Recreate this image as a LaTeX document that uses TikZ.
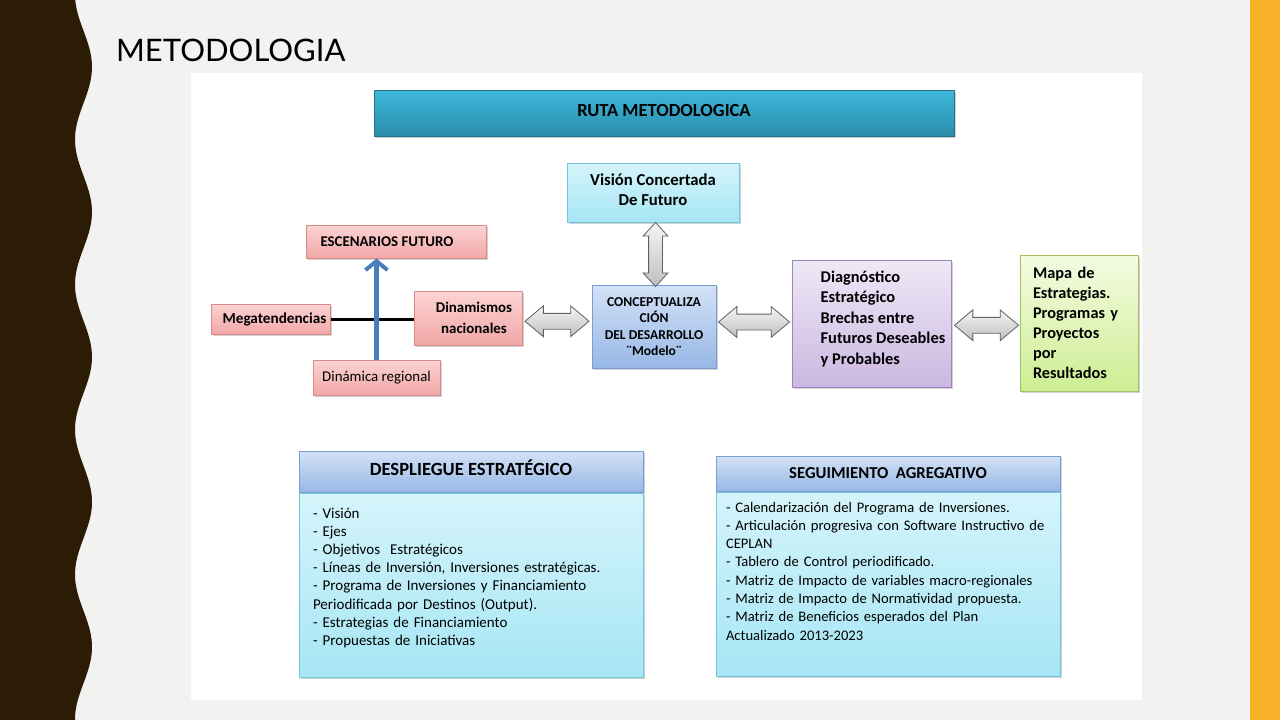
\documentclass[tikz,border=0pt]{standalone}
\usepackage{fontspec}
\setmainfont{Carlito}
\newfontfamily\titlefont{Lato}
\usetikzlibrary{shapes.arrows,shadows,arrows.meta,calc}

\definecolor{slidebg}{HTML}{F2F2F1}
\definecolor{bandbrown}{HTML}{2C1C06}
\definecolor{bandorange}{HTML}{F6B128}
\definecolor{rosetop}{HTML}{FBD3D3}
\definecolor{rosebot}{HTML}{F2A7A7}
\definecolor{roseline}{HTML}{D98A89}
\definecolor{cyantop}{HTML}{D5F4FB}
\definecolor{cyanbot}{HTML}{A6E6F5}
\definecolor{cyanline}{HTML}{74C6DA}
\definecolor{bluetop}{HTML}{D3E1F6}
\definecolor{bluebot}{HTML}{97B8E6}
\definecolor{blueline}{HTML}{7A9ED2}
\definecolor{liltop}{HTML}{EEE8F6}
\definecolor{lilbot}{HTML}{CBB8E0}
\definecolor{lilline}{HTML}{9C84C2}
\definecolor{greentop}{HTML}{F4FBE2}
\definecolor{greenbot}{HTML}{CDEE93}
\definecolor{greenline}{HTML}{A2C062}
\definecolor{tealtop}{HTML}{3DB8DB}
\definecolor{tealbot}{HTML}{2B8DAA}
\definecolor{arrowblue}{HTML}{4A7EBB}

\tikzset{
  box/.style={draw, line width=1pt, inner sep=2pt, align=center,
    drop shadow={shadow xshift=1.5pt, shadow yshift=-2pt, opacity=0.35}},
  rosebox/.style={box, draw=roseline, top color=rosetop, bottom color=rosebot},
  cyanbox/.style={box, draw=cyanline, top color=cyantop, bottom color=cyanbot},
  bluebox/.style={box, draw=blueline, top color=bluetop, bottom color=bluebot},
  dblarrow/.style={double arrow, draw=gray!75!black, line width=0.8pt,
    top color=gray!8, bottom color=gray!50, inner xsep=0pt, inner ysep=7.5pt,
    double arrow tip angle=80, double arrow head extend=7.5pt}
}

\begin{document}
\begin{tikzpicture}[x=1pt,y=-1pt]
\useasboundingbox (0,0) rectangle (1280,720);

% slide background and side bands
\fill[slidebg] (0,0) rectangle (1280,720);
\fill[bandorange] (1250,0) rectangle (1280,720);
\fill[bandbrown] (0,-10) -- plot[domain=-10:730, samples=120, smooth]
  ({83.5+8.5*cos(2.4828*(\x-67))}, \x) -- (0,730) -- cycle;

\node[anchor=base west, inner sep=0pt, font=\titlefont\fontsize{31}{34}\selectfont] (titulo) at (116,61) {METODOLOGIA};

% white panel
\fill[white] (191,73) rectangle (1142,700);

% top row
\node[box, draw=tealbot!80!black, top color=tealtop, bottom color=tealbot, minimum width=580, minimum height=46,
  text depth=6pt, font=\bfseries\fontsize{18.5}{20}\selectfont] (ruta) at (664,113) {RUTA METODOLOGICA};
\node[cyanbox, minimum width=172, minimum height=59, text depth=5pt, font=\bfseries\fontsize{16.7}{20}\selectfont] (vision) at (653,192.5) {Visión Concertada\\De Futuro};

\node[rosebox, minimum width=180, minimum height=33, font=\bfseries\fontsize{14.9}{16}\selectfont] (escen) at (396,241.5) {ESCENARIOS FUTURO\hspace{18pt}};
\node[rosebox, minimum width=119, minimum height=30, font=\bfseries\fontsize{15.2}{16}\selectfont] (mega) at (270.5,319) {\hspace{8pt}Megatendencias};
\node[rosebox, minimum width=108, minimum height=54, font=\bfseries\fontsize{14.9}{21}\selectfont] (dina) at (468,318) {\hspace{12pt}Dinamismos\\\hspace{12pt}nacionales};
\node[rosebox, minimum width=127, minimum height=35, font=\fontsize{14.9}{16}\selectfont] (dinreg) at (376.5,377.5) {Dinámica regional};

\node[bluebox, minimum width=124, minimum height=83, font=\bfseries\fontsize{13.6}{16.6}\selectfont] (conc) at (654,326.5) {CONCEPTUALIZA\\CIÓN\\DEL DESARROLLO\\¨Modelo¨};
\node[box, draw=lilline, top color=liltop, bottom color=lilbot, minimum width=159, minimum height=127,
  align=left, text depth=12pt, font=\bfseries\fontsize{16.4}{20.5}\selectfont] (diag) at (871.5,323.5)
  {\hspace{23pt}Diagnóstico\\\hspace{23pt}Estratégico\\\hspace{23pt}Brechas entre\\\hspace{23pt}Futuros Deseables\\\hspace{23pt}y Probables};
\node[box, draw=greenline, top color=greentop, bottom color=greenbot, minimum width=118, minimum height=136,
  align=left, text width=92, font=\bfseries\fontsize{16.3}{20}\selectfont] (mapa) at (1079,323)
  {Mapa de\\Estrategias.\\Programas y\\Proyectos\\por\\Resultados};

% links
\draw[line width=3pt] (mega.east) -- (mega.east -| dina.west);
\draw[arrowblue, line width=4.5pt, -{Straight Barb[length=9pt,width=22pt,line width=4pt]}] (dinreg.north) -- (dinreg.north |- escen.south);

\node[dblarrow, minimum height=64] (a1) at ($(dina.east)!0.5!(conc.west)+(0,-1)$) {};
\node[dblarrow, minimum height=71] (a2) at ($(conc.east)!0.5!(diag.west)+(0,-3)$) {};
\node[dblarrow, minimum height=64] (a3) at ($(diag.east)!0.5!(mapa.west)+(1,2)$) {};
\node[dblarrow, rotate=90, minimum height=64, inner ysep=6.5pt, double arrow head extend=5.5pt, double arrow tip angle=85] (a4) at ($(vision.south)!0.5!(conc.north)+(2,1)$) {};

% bottom row
\node[bluebox, minimum width=344, minimum height=41, text depth=8pt, font=\bfseries\fontsize{18.6}{20}\selectfont] (desph) at (471,471.5) {DESPLIEGUE ESTRATÉGICO};
\node[cyanbox, anchor=north, minimum width=344, minimum height=184, align=left, text width=316, inner xsep=14pt, inner ysep=4pt,
  text depth=144pt, font=\fontsize{15}{18.2}\selectfont] (despb) at (desph.south)
  {- Visión\\
   - Ejes\\
   - Objetivos\ \ Estratégicos\\
   - Líneas de Inversión, Inversiones estratégicas.\\
   - Programa de Inversiones y Financiamiento\\
   Periodificada por Destinos (Output).\\
   - Estrategias de Financiamiento\\
   - Propuestas de Iniciativas};

\node[bluebox, minimum width=344, minimum height=35, font=\bfseries\fontsize{16.7}{18}\selectfont] (segh) at (888,473.5) {SEGUIMIENTO\ \ AGREGATIVO};
\node[cyanbox, anchor=north, minimum width=344, minimum height=184, align=left, text width=324, inner xsep=10pt, inner ysep=4pt,
  text depth=154pt, font=\fontsize{14.6}{18.3}\selectfont] (segb) at (segh.south)
  {- Calendarización del Programa de Inversiones.\\
   - Articulación progresiva con Software Instructivo de\\
   CEPLAN\\
   - Tablero de Control periodificado.\\
   - Matriz de Impacto de variables macro-regionales\\
   - Matriz de Impacto de Normatividad propuesta.\\
   - Matriz de Beneficios esperados del Plan\\
   Actualizado 2013-2023};
\end{tikzpicture}
\end{document}
